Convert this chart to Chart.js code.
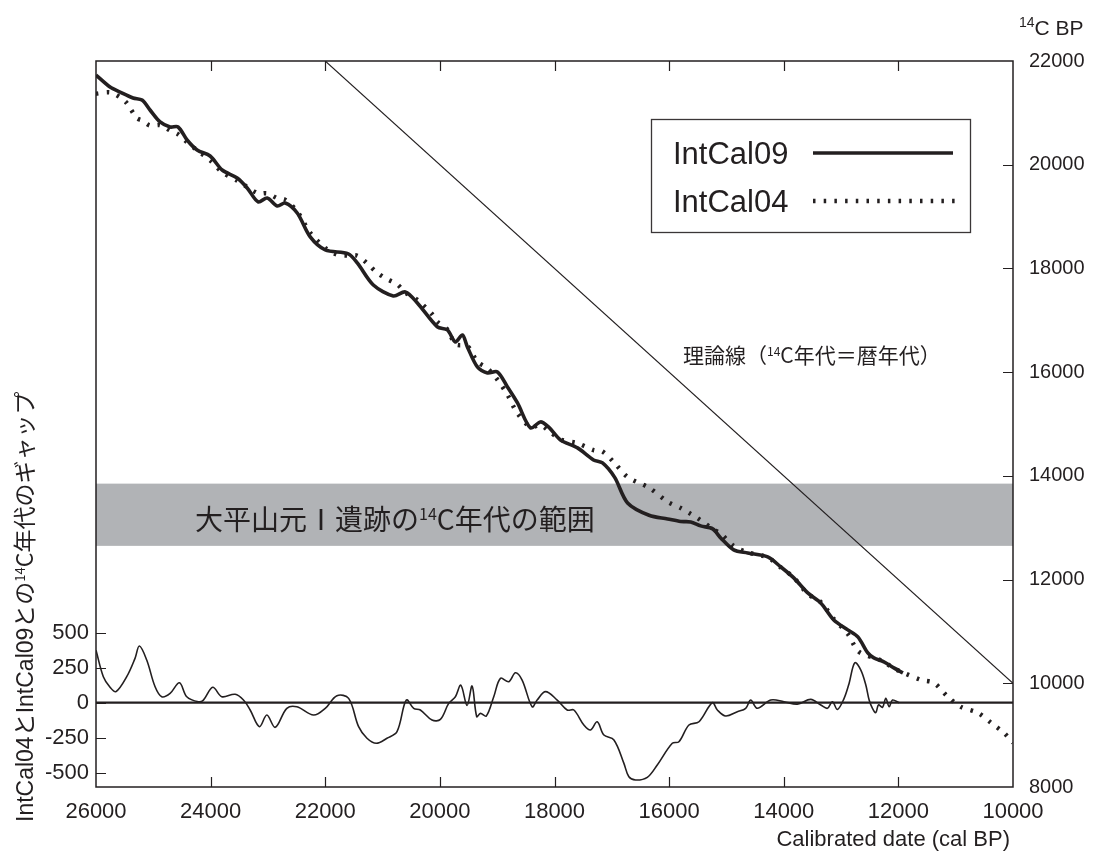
<!DOCTYPE html>
<html>
<head>
<meta charset="utf-8">
<script src="https://cdn.jsdelivr.net/npm/chart.js@4/dist/chart.umd.min.js"></script>
<style>
  html, body { margin: 0; padding: 0; background: #ffffff; }
  canvas { display: block; }
</style>
</head>
<body>
<canvas id="chart" width="1097" height="852"></canvas>
<script>
// ---- tick values ----
const calTicks = [26000, 24000, 22000, 20000, 18000, 16000, 14000, 12000, 10000];
const c14Ticks = [8000, 10000, 12000, 14000, 16000, 18000, 20000, 22000];
const gapTicks = [-500, -250, 0, 250, 500];

// ---- IntCal09 (cal BP -> 14C BP) ----
const intcal09Cal = [26000, 25755, 25581, 25354, 25197, 25057, 24882, 24707, 24568, 24411,
  24236, 24009, 23799, 23537, 23362, 23170, 23013, 22838, 22698, 22489,
  22262, 22000, 21598, 21441, 21161, 20812, 20603, 20393, 20044, 19869,
  19729, 19607, 19520, 19345, 19170, 18996, 18821, 18646, 18419, 18245,
  18105, 17895, 17598, 17319, 17162, 16950, 16725, 16350, 16026, 15799,
  15624, 15450, 15240, 15100, 14873, 14629, 14280, 14052, 13825, 13581,
  13354, 13127, 12882, 12707, 12533, 12428, 12253, 12079, 11921];
const intcal09C14 = [21730, 21499, 21402, 21287, 21248, 21055, 20824, 20727, 20727, 20477,
  20284, 20168, 19898, 19744, 19552, 19282, 19359, 19205, 19262, 19069,
  18607, 18356, 18280, 18105, 17680, 17470, 17546, 17334, 16872, 16814,
  16582, 16717, 16486, 16100, 15985, 16004, 15715, 15406, 14924, 15040,
  14943, 14693, 14539, 14307, 14249, 13970, 13478, 13240, 13170, 13120,
  13112, 13035, 12977, 12803, 12572, 12514, 12437, 12244, 12032, 11743,
  11550, 11222, 11030, 10895, 10586, 10490, 10413, 10297, 10201];

// ---- IntCal04 (cal BP -> 14C BP) ----
const intcal04Cal = [26000, 25755, 25581, 25464, 25290, 25197, 25057, 24882, 24707, 24568,
  24411, 24236, 24009, 23799, 23537, 23362, 23170, 23013, 22838, 22698,
  22489, 22262, 22000, 21796, 21598, 21441, 21272, 21109, 20923, 20748,
  20603, 20393, 20137, 20044, 19869, 19729, 19520, 19345, 19170, 18996,
  18821, 18646, 18419, 18245, 18105, 17895, 17598, 17319, 17162, 16950,
  16725, 16350, 16026, 15799, 15624, 15450, 15240, 15100, 14873, 14629,
  14280, 14052, 13825, 13581, 13354, 13127, 12882, 12707, 12533, 12428,
  12253, 12079, 11904, 11607, 11380, 11135, 10908, 10611, 10384, 10157, 10000];
const intcal04C14 = [21370, 21395, 21300, 21190, 20900, 20853, 20755, 20764, 20660, 20587,
  20434, 20277, 20088, 19855, 19694, 19572, 19447, 19449, 19355, 19322,
  19099, 18687, 18396, 18268, 18249, 18245, 18102, 17930, 17794, 17697,
  17536, 17394, 17119, 16972, 16824, 16539, 16502, 16200, 16073, 15854,
  15565, 15206, 14944, 14980, 14873, 14703, 14629, 14497, 14469, 14245,
  13978, 13770, 13500, 13380, 13267, 13145, 12977, 12883, 12647, 12524,
  12427, 12234, 12037, 11723, 11566, 11242, 10950, 10625, 10526, 10500,
  10413, 10287, 10201, 10066, 10008, 9738, 9545, 9429, 9237, 9044, 8851];

// ---- gap between the two calibration curves (14C years) ----
const gapCal = [26000, 25872, 25755, 25651, 25464, 25319, 25243, 25115, 24969, 24853,
  24707, 24544, 24416, 24213, 24126, 23963, 23806, 23572, 23427, 23310,
  23148, 23019, 22873, 22670, 22495, 22204, 22000, 21796, 21592, 21418,
  21272, 21109, 20923, 20748, 20585, 20457, 20341, 20137, 19991, 19846,
  19729, 19635, 19525, 19438, 19357, 19293, 19190, 19060, 18943, 18798,
  18681, 18565, 18390, 18303, 18157, 17953, 17779, 17662, 17488, 17371,
  17255, 17138, 16963, 16789, 16702, 16585, 16381, 16207, 15945, 15829,
  15654, 15479, 15247, 15159, 15014, 14810, 14664, 14577, 14460, 14227,
  13995, 13762, 13529, 13354, 13238, 13151, 13063, 12947, 12860, 12760,
  12655, 12568, 12510, 12452, 12394, 12347, 12277, 12219, 12161, 12103, 11986];
const gapValues = [375, 186, 110, 79, 186, 317, 405, 305, 114, 43,
  67, 143, 43, 7, 19, 110, 43, 60, 19, -52,
  -171, -88, -176, -40, -29, -88, -40, 50, 31, -171,
  -254, -290, -254, -207, 19, -40, -52, -124, -119, -5,
  43, 125, -20, 119, -100, -76, -95, 43, 174, 150,
  214, 162, -29, 19, 79, 19, -52, -52, -159, -195,
  -136, -231, -266, -433, -529, -552, -533, -445, -290, -279,
  -159, -136, 0, -52, -95, -64, -40, 19, -40, 19,
  7, -10, 24, -16, -40, 7, -48, 31, 138, 286,
  233, 126, 19, -40, -71, -16, -33, 31, -29, 19, 0];

// ---- theoretical line (14C age = calendar age) ----
const theoryCal = [22000, 10000];
const theoryC14 = [22000, 10000];

// ---- 14C age range of the Odai Yamamoto I site ----
const siteRangeC14 = [12650, 13850];

// ---- text ----
const seriesNames = ['IntCal09', 'IntCal04'];
const xTitle = 'Calibrated date (cal BP)';

const INK = '#231f20';
const LAT = "'Liberation Sans', Arial, Helvetica, sans-serif";
const JP = "'Noto Sans CJK JP', 'Noto Sans', sans-serif";
const DOTS = [2.5, 8.2];

const toPoints = (xs, ys) => xs.map((x, i) => ({ x: x, y: ys[i] }));

function drawRuns(ctx, runs, x, y) {
  let cx = x;
  for (const r of runs) {
    ctx.font = `${r.size}px ${r.family}`;
    ctx.fillText(r.text, cx, y - (r.rise || 0));
    cx += ctx.measureText(r.text).width + (r.after || 0);
  }
}

// shaded band for the site's 14C range
const bandPlugin = {
  id: 'siteBand',
  beforeDatasetsDraw(chart) {
    const { ctx, chartArea } = chart;
    const y = chart.scales.y14;
    const top = y.getPixelForValue(siteRangeC14[1]);
    const bottom = y.getPixelForValue(siteRangeC14[0]);
    ctx.save();
    ctx.fillStyle = '#b1b3b6';
    ctx.fillRect(chartArea.left, top, chartArea.right - chartArea.left, bottom - top);
    ctx.restore();
  }
};

// frame, inward tick marks, legend and annotations
const decorPlugin = {
  id: 'decor',
  afterDatasetsDraw(chart) {
    const { ctx, chartArea: a } = chart;
    const sx = chart.scales.x, sg = chart.scales.yGap, sc = chart.scales.y14;
    ctx.save();
    ctx.strokeStyle = INK;
    ctx.lineWidth = 1.5;
    ctx.strokeRect(a.left, a.top, a.right - a.left, a.bottom - a.top);

    ctx.lineWidth = 1.2;
    ctx.beginPath();
    const TL = 10;
    calTicks.forEach(v => {
      const px = Math.round(sx.getPixelForValue(v)) + 0.5;
      if (px <= a.left + 1 || px >= a.right - 1) return;
      ctx.moveTo(px, a.bottom); ctx.lineTo(px, a.bottom - TL);
      ctx.moveTo(px, a.top); ctx.lineTo(px, a.top + TL);
    });
    gapTicks.forEach(v => {
      const py = Math.round(sg.getPixelForValue(v)) + 0.5;
      ctx.moveTo(a.left, py); ctx.lineTo(a.left + TL, py);
    });
    c14Ticks.forEach(v => {
      const py = Math.round(sc.getPixelForValue(v)) + 0.5;
      if (py <= a.top + 1 || py >= a.bottom - 1) return;
      ctx.moveTo(a.right, py); ctx.lineTo(a.right - TL, py);
    });
    ctx.stroke();

    ctx.fillStyle = INK;
    ctx.textBaseline = 'alphabetic';
    ctx.textAlign = 'left';

    // site range label on the band
    drawRuns(ctx, [
      { text: '大平山元', size: 28, family: JP },
      { text: 'Ⅰ', size: 28, family: JP },
      { text: '遺跡の', size: 28, family: JP },
      { text: '14', size: 16, family: JP, rise: 10 },
      { text: 'C年代の範囲', size: 28, family: JP }
    ], 195, 530);

    // label of the theoretical line
    drawRuns(ctx, [
      { text: '理論線（', size: 21, family: JP },
      { text: '14', size: 12, family: JP, rise: 7 },
      { text: 'C年代＝暦年代）', size: 21, family: JP }
    ], 683, 363);

    // legend
    ctx.lineWidth = 1.3;
    ctx.strokeStyle = '#3a3637';
    ctx.strokeRect(651.5, 119.5, 319, 113);
    ctx.font = `31px ${LAT}`;
    ctx.fillText(seriesNames[0], 673, 164);
    ctx.fillText(seriesNames[1], 673, 212);
    const ds09 = chart.data.datasets[4], ds04 = chart.data.datasets[3];
    ctx.strokeStyle = ds09.borderColor;
    ctx.lineWidth = ds09.borderWidth;
    ctx.beginPath(); ctx.moveTo(813, 153); ctx.lineTo(953, 153); ctx.stroke();
    ctx.strokeStyle = ds04.borderColor;
    ctx.lineWidth = ds04.borderWidth;
    ctx.setLineDash(ds04.borderDash);
    ctx.beginPath(); ctx.moveTo(813, 201); ctx.lineTo(956, 201); ctx.stroke();
    ctx.setLineDash([]);

    // right axis title
    drawRuns(ctx, [
      { text: '14', size: 14, family: LAT, rise: 8 },
      { text: 'C BP', size: 21, family: LAT }
    ], 1019, 35);

    // x axis title
    ctx.font = `22px ${LAT}`;
    ctx.textAlign = 'right';
    ctx.fillText(xTitle, 1010, 846);

    // left axis title (rotated)
    ctx.textAlign = 'left';
    ctx.translate(33, 822);
    ctx.rotate(-Math.PI / 2);
    drawRuns(ctx, [
      { text: 'IntCal04', size: 23, family: LAT },
      { text: 'と', size: 23, family: JP },
      { text: 'IntCal09', size: 23, family: LAT },
      { text: 'との', size: 23, family: JP },
      { text: '14', size: 13, family: JP, rise: 8 },
      { text: 'C年代のギャップ', size: 23, family: JP }
    ], 0, 0);
    ctx.restore();
  }
};

const ticksFrom = list => scale => { scale.ticks = list.map(v => ({ value: v })); };
const noGrid = { display: false, drawTicks: false, tickLength: 0 };

new Chart(document.getElementById('chart'), {
  type: 'line',
  data: {
    datasets: [
      {
        label: 'gap',
        data: toPoints(gapCal, gapValues),
        yAxisID: 'yGap',
        borderColor: INK,
        borderWidth: 1.6,
        tension: 0.35
      },
      {
        label: 'zero',
        data: toPoints([26000, 10000], [0, 0]),
        yAxisID: 'yGap',
        borderColor: INK,
        borderWidth: 2.2
      },
      {
        label: 'theory',
        data: toPoints(theoryCal, theoryC14),
        yAxisID: 'y14',
        borderColor: INK,
        borderWidth: 1.1
      },
      {
        label: seriesNames[1],
        data: toPoints(intcal04Cal, intcal04C14),
        yAxisID: 'y14',
        borderColor: INK,
        borderWidth: 4.5,
        borderDash: DOTS,
        borderCapStyle: 'butt',
        tension: 0.3
      },
      {
        label: seriesNames[0],
        data: toPoints(intcal09Cal, intcal09C14),
        yAxisID: 'y14',
        borderColor: INK,
        borderWidth: 3.6,
        tension: 0.3
      }
    ]
  },
  options: {
    responsive: false,
    devicePixelRatio: 1,
    animation: false,
    layout: { padding: { top: 61, left: 0, right: 0, bottom: 0 } },
    elements: { point: { radius: 0 } },
    plugins: { legend: { display: false }, tooltip: { enabled: false } },
    scales: {
      x: {
        type: 'linear',
        reverse: true,
        min: 10000,
        max: 26000,
        afterBuildTicks: ticksFrom(calTicks),
        afterFit: s => { s.height = 65; },
        grid: noGrid,
        border: { display: false },
        ticks: {
          color: INK, padding: 12, maxRotation: 0, autoSkip: false,
          font: { size: 22, family: LAT },
          callback: v => String(v)
        }
      },
      yGap: {
        type: 'linear',
        position: 'left',
        min: -602,
        max: 4584,
        afterBuildTicks: ticksFrom(gapTicks),
        afterFit: s => { s.width = 96; },
        grid: noGrid,
        border: { display: false },
        ticks: {
          color: INK, padding: 7, autoSkip: false,
          font: { size: 22, family: LAT },
          callback: v => String(v)
        }
      },
      y14: {
        type: 'linear',
        position: 'right',
        min: 8000,
        max: 22000,
        afterBuildTicks: ticksFrom(c14Ticks),
        afterFit: s => { s.width = 84; },
        grid: noGrid,
        border: { display: false },
        ticks: {
          color: INK, padding: 16, autoSkip: false,
          font: { size: 20, family: LAT },
          callback: v => String(v)
        }
      }
    }
  },
  plugins: [bandPlugin, decorPlugin]
});
</script>
</body>
</html>
